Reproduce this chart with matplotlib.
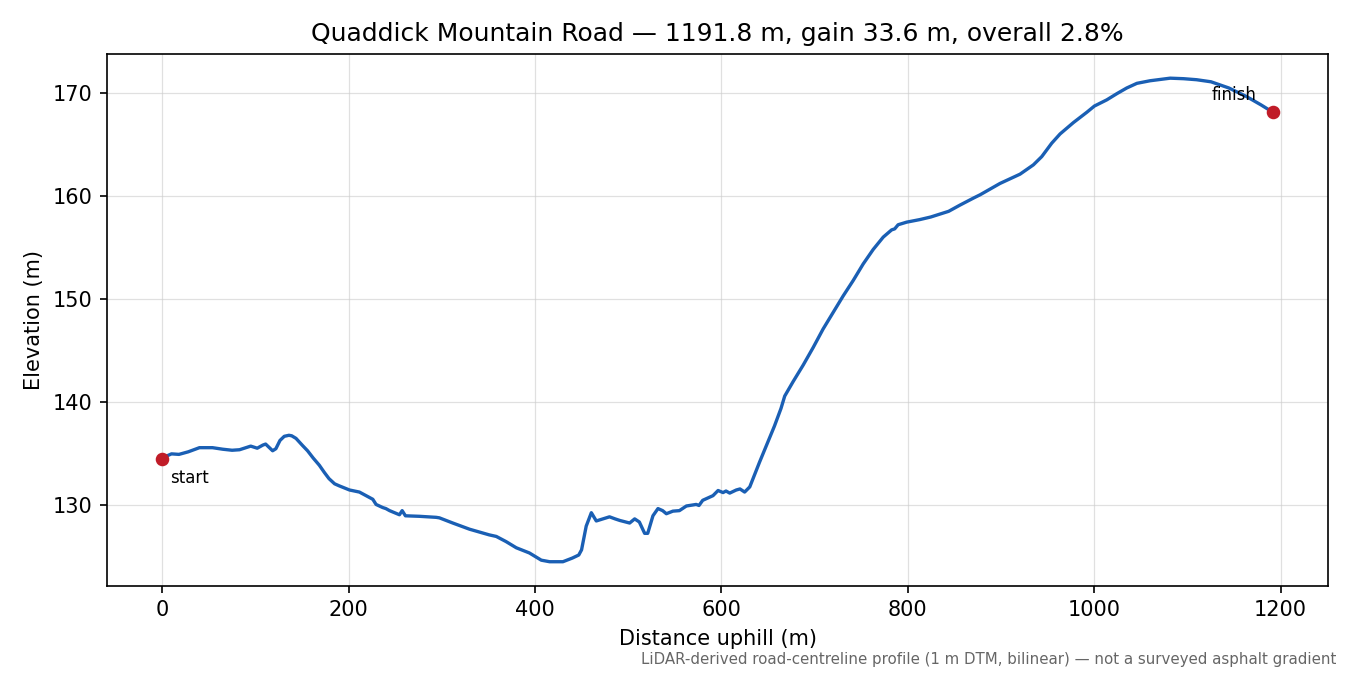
import matplotlib
matplotlib.use("Agg")
import matplotlib.pyplot as plt

# profile digitised along the road centreline
distance_m = [0, 5, 10, 18, 28, 40, 54, 65, 75, 83, 90, 95, 102, 108, 111, 118.5, 122,
              126.4, 131, 136, 139, 143.6, 150.7, 156, 162, 168.6, 174, 179, 185, 190,
              201, 211.6, 222, 226, 229.5, 236.6, 240, 244, 254.6, 257.5, 261, 276, 294,
              297.5, 311.8, 329.8, 351, 358.5, 369, 380, 394, 406.8, 415.7, 430, 440,
              447, 450, 455, 460.5, 465.8, 473, 480, 486, 491, 501.6, 507, 512, 517.7,
              521, 526.6, 532, 537, 541, 548, 555, 562.5, 573, 576, 580, 591, 596.5,
              601.8, 605, 609, 616, 620, 625, 630.5, 641, 652, 657, 664, 668, 677,
              687.8, 698.5, 709.2, 720, 730.7, 741.5, 752.2, 762.9, 773.7, 782.7, 786,
              789.7, 798.8, 813, 824.7, 843.9, 856, 870.9, 877.6, 899, 920.5, 934.8,
              943.8, 954.5, 963.5, 977.8, 992.2, 1000.3, 1013.6, 1024.4, 1035, 1045.9,
              1060, 1081.6, 1096, 1110, 1125.4, 1144.6, 1163.9, 1179.3, 1191.8]
elevation_m = [134.5, 134.8, 135.0, 134.95, 135.2, 135.6, 135.6, 135.45, 135.35, 135.4,
               135.6, 135.75, 135.55, 135.85, 135.95, 135.3, 135.5, 136.3, 136.7, 136.8,
               136.75, 136.5, 135.8, 135.3, 134.6, 133.9, 133.2, 132.6, 132.1, 131.9,
               131.5, 131.3, 130.8, 130.6, 130.1, 129.8, 129.7, 129.5, 129.1, 129.5,
               129.0, 128.95, 128.85, 128.8, 128.3, 127.7, 127.15, 127.0, 126.5, 125.9,
               125.4, 124.7, 124.55, 124.55, 124.9, 125.2, 125.7, 128.0, 129.3, 128.5,
               128.7, 128.9, 128.7, 128.55, 128.3, 128.7, 128.4, 127.3, 127.3, 129.0,
               129.7, 129.5, 129.2, 129.45, 129.5, 129.95, 130.1, 130.0, 130.5, 130.95,
               131.45, 131.25, 131.4, 131.2, 131.5, 131.6, 131.3, 131.8, 134.2, 136.6,
               137.7, 139.4, 140.6, 142.0, 143.6, 145.3, 147.1, 148.7, 150.3, 151.8,
               153.4, 154.8, 156.0, 156.7, 156.8, 157.2, 157.45, 157.7, 157.95, 158.5,
               159.1, 159.8, 160.1, 161.2, 162.1, 163.0, 163.8, 165.1, 166.0, 167.1,
               168.1, 168.7, 169.3, 169.9, 170.45, 170.9, 171.15, 171.4, 171.35, 171.25,
               171.05, 170.45, 169.6, 168.8, 168.1]

total_len = 1191.8
gain = 33.6
grade_pct = 2.8

fig = plt.figure(figsize=(9, 4.5), dpi=150)
ax = fig.add_axes([0.079, 0.132, 0.905, 0.788])

ax.plot(distance_m, elevation_m, color="#1a5fb4", linewidth=1.6)
ax.plot([distance_m[0], distance_m[-1]], [elevation_m[0], elevation_m[-1]],
        "o", color="#c01c28", markersize=5.5, zorder=3)

ax.annotate("start", (distance_m[0], elevation_m[0]), xytext=(4, -9),
            textcoords="offset points", ha="left", va="center", fontsize=8)
ax.annotate("finish", (distance_m[-1], elevation_m[-1]), xytext=(-8, 8.5),
            textcoords="offset points", ha="right", va="center", fontsize=8)

ax.grid(True, color="#cccccc", linewidth=0.6, alpha=0.6)
ax.set_xlabel("Distance uphill (m)")
ax.set_ylabel("Elevation (m)")
ax.set_title(f"Quaddick Mountain Road \u2014 {total_len} m, gain {gain} m, overall {grade_pct}%")

fig.text(0.99, 0.012,
         "LiDAR-derived road-centreline profile (1 m DTM, bilinear) \u2014 not a surveyed asphalt gradient",
         ha="right", va="bottom", fontsize=7.2, color="#666666")

fig.savefig("out.png", dpi=150)
